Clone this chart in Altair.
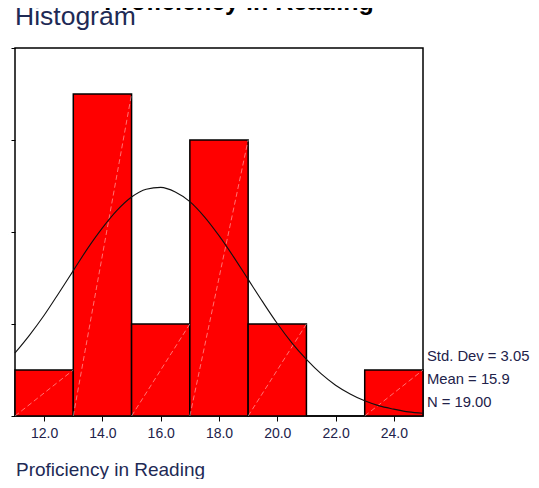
import altair as alt
import pandas as pd

# Histogram bins (Proficiency in Reading)
bin_start = [11, 13, 15, 17, 19, 21, 23]
bin_end = [13, 15, 17, 19, 21, 23, 25]
counts = [1, 7, 2, 6, 2, 0, 1]

# Normal curve
curve_x = [11, 11.5, 12, 12.5, 13, 13.5, 14, 14.5, 15, 15.5, 16, 16.5, 17, 17.5,
           18, 18.5, 19, 19.5, 20, 20.5, 21, 21.5, 22, 22.5, 23, 23.5, 24, 24.5, 25]
curve_y = [1.37, 1.76, 2.19, 2.67, 3.16, 3.65, 4.09, 4.47, 4.76, 4.93, 4.97, 4.87, 4.66, 4.33,
           3.92, 3.46, 2.97, 2.48, 2.01, 1.59, 1.23, 0.92, 0.67, 0.48, 0.33, 0.22, 0.15, 0.09, 0.06]

x_ticks = [12, 14, 16, 18, 20, 22, 24]
y_ticks = [0, 2, 4, 6, 8]

stats = ["Std. Dev = 3.05", "Mean = 15.9", "N = 19.00"]
title_text = "Proficiency in Reading"
subtitle_text = "Histogram"
x_label = "Proficiency in Reading"

FONT = "Liberation Sans"
W, H = 408, 368

bars_df = pd.DataFrame({"start": bin_start, "end": bin_end, "count": counts})
curve_df = pd.DataFrame({"x": curve_x, "y": curve_y})

xscale = alt.Scale(domain=[11, 25], nice=False, zero=False)
yscale = alt.Scale(domain=[0, 8], nice=False)

xaxis = alt.Axis(values=x_ticks, format=".1f", title=None, grid=False, domain=False,
                 ticks=True, tickSize=5, tickColor="black", tickWidth=1,
                 labelFont=FONT, labelFontSize=14, labelColor="#22224a", labelPadding=5)
yaxis = alt.Axis(values=y_ticks, format="d", title=None, grid=False, domain=False,
                 ticks=True, tickSize=4, tickColor="black", tickWidth=1,
                 labelFont=FONT, labelFontSize=14, labelFontWeight="bold",
                 labelColor="#22224a", labelPadding=4)

bars = alt.Chart(bars_df).mark_rect(color="#ff0000", stroke="black", strokeWidth=1.5).encode(
    x=alt.X("start:Q", scale=xscale, axis=xaxis),
    x2="end:Q",
    y=alt.Y("count:Q", scale=yscale, axis=yaxis),
    y2=alt.datum(0),
)

diag = alt.Chart(bars_df).transform_filter("datum.count > 0").transform_calculate(
    zero="0"
).mark_rule(
    color="white", opacity=0.45, strokeWidth=1, strokeDash=[5, 3]
).encode(
    x=alt.X("start:Q", scale=xscale),
    x2="end:Q",
    y=alt.Y("zero:Q", scale=yscale),
    y2="count:Q",
)

curve = alt.Chart(curve_df).mark_line(color="#111111", strokeWidth=1.1, interpolate="monotone").encode(
    x=alt.X("x:Q", scale=xscale),
    y=alt.Y("y:Q", scale=yscale),
)


def label(text, x, y, size, color, weight="normal", align="left"):
    return alt.Chart(pd.DataFrame({"t": [text]})).mark_text(
        font=FONT, fontSize=size, color=color, fontWeight=weight,
        align=align, baseline="alphabetic"
    ).encode(text="t:N", x=alt.value(x), y=alt.value(y))


texts = [
    label(title_text, 224, -38, 25, "black", weight="bold", align="center"),
    label(subtitle_text, 0, -23, 26.5, "#1e2a55"),
    label(x_label, 1, 428, 19, "#1e2a55"),
]
for i, s in enumerate(stats):
    texts.append(label(s, 412, 313 + 23 * i, 14.8, "#22224a"))

chart = alt.layer(bars, diag, curve, *texts).properties(
    width=W, height=H,
    autosize=alt.AutoSizeParams(type="none"),
    padding={"left": 7, "top": 40, "right": 107, "bottom": 63},
).configure(background="white").configure_view(stroke="black", strokeWidth=1.5)

chart.save("out.html", embed_options={"renderer": "svg", "actions": False})
